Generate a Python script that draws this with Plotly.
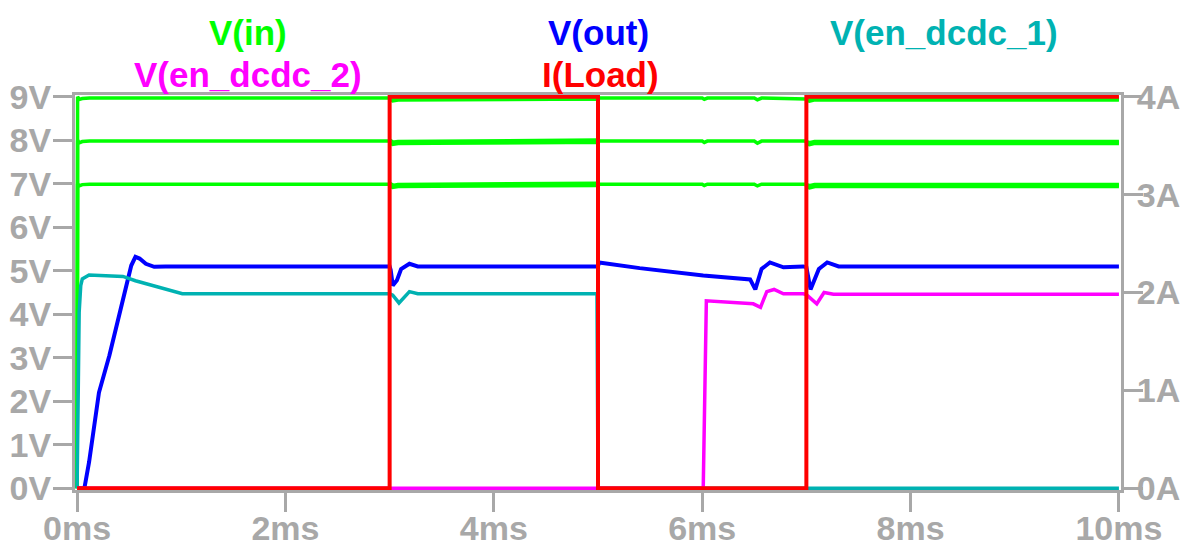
import plotly.graph_objects as go

# ---- waveform data (time in ms) ----
vin_t = [0.0, 0.005, 0.02, 0.05, 0.12, 3.0, 3.03, 3.08, 4.99, 5.0, 5.03, 6.0, 6.02, 6.05,
         6.5, 6.53, 6.57, 6.99, 7.0, 7.03, 7.08, 10.0]
vin_9 = [0.0, 9.00, 8.94, 8.96, 8.97, 8.97, 8.93, 8.95, 8.95, 8.97, 8.97, 8.97, 8.94, 8.97,
         8.97, 8.93, 8.97, 8.97, 8.95, 8.92, 8.95, 8.95]
vin_8 = [0.0, 8.00, 7.94, 7.97, 7.98, 7.98, 7.93, 7.95, 7.95, 7.98, 7.98, 7.98, 7.95, 7.98,
         7.98, 7.93, 7.98, 7.98, 7.95, 7.92, 7.95, 7.95]
vin_7 = [0.0, 7.00, 6.95, 6.98, 6.99, 6.99, 6.94, 6.96, 6.96, 6.99, 6.99, 6.99, 6.96, 6.99,
         6.99, 6.95, 6.99, 6.99, 6.96, 6.93, 6.96, 6.96]

vout_t = [0.0, 0.07, 0.115, 0.18, 0.21, 0.31, 0.40, 0.48, 0.52, 0.56, 0.60, 0.66, 0.74, 0.85,
          3.0, 3.01, 3.03, 3.07, 3.11, 3.19, 3.27, 5.0, 5.01, 5.4, 6.01, 6.46, 6.51, 6.57,
          6.65, 6.78, 6.97, 7.0, 7.04, 7.12, 7.2, 7.31, 10.0]
vout = [0.0, 0.0, 0.6, 1.66, 2.2, 3.05, 3.97, 4.77, 5.12, 5.32, 5.28, 5.16, 5.09, 5.10,
        5.10, 5.02, 4.66, 4.78, 5.04, 5.16, 5.10, 5.10, 5.19, 5.06, 4.89, 4.80, 4.57, 5.04,
        5.19, 5.08, 5.10, 5.08, 4.57, 5.04, 5.19, 5.10, 5.10]

en1_t = [0.0, 0.02, 0.035, 0.05, 0.115, 0.44, 0.56, 0.95, 1.01, 3.0, 3.03, 3.09, 3.19, 3.27,
         4.99, 5.0, 10.0]
en1 = [0.0, 4.05, 4.66, 4.81, 4.90, 4.87, 4.77, 4.50, 4.47, 4.47, 4.44, 4.26, 4.52, 4.47,
       4.47, 0.0, 0.0]

en2_t = [0.0, 6.01, 6.04, 6.49, 6.56, 6.62, 6.69, 6.78, 6.97, 7.0, 7.1, 7.17, 7.26, 10.0]
en2 = [0.0, 0.0, 4.31, 4.24, 4.16, 4.52, 4.57, 4.47, 4.47, 4.45, 4.24, 4.50, 4.46, 4.46]

load_t = [0.0, 3.0, 3.0, 5.0, 5.0, 7.0, 7.0, 10.0]
load_i = [0.0, 0.0, 4.0, 4.0, 0.0, 0.0, 4.0, 4.0]

x_ticks = [0, 2, 4, 6, 8, 10]
x_tick_text = ["0ms", "2ms", "4ms", "6ms", "8ms", "10ms"]
v_ticks = [0, 1, 2, 3, 4, 5, 6, 7, 8, 9]
v_tick_text = ["0V", "1V", "2V", "3V", "4V", "5V", "6V", "7V", "8V", "9V"]
i_ticks = [0, 1, 2, 3, 4]
i_tick_text = ["0A", "1A", "2A", "3A", "4A"]

GREEN = "#00FF00"
BLUE = "#0000FF"
CYAN = "#00B2B2"
MAGENTA = "#FF00FF"
RED = "#FF0000"
GRAY = "#A8A8A8"
FONT = "Liberation Sans"

fig = go.Figure()


def line(x, y, color, width, yaxis="y"):
    fig.add_trace(go.Scatter(x=x, y=y, mode="lines", yaxis=yaxis, showlegend=False,
                             line=dict(color=color, width=width), hoverinfo="skip"))


# input supply for the three stepped runs
for series in (vin_7, vin_8, vin_9):
    line(vin_t, series, GREEN, 3.5)

# while the load is on, the supply carries ripple: draw those stretches heavier
windows = []
for k in range(len(load_t) - 1):
    if load_i[k] > 0 and load_i[k + 1] > 0:
        windows.append((load_t[k], load_t[k + 1]))
for a, b in windows:
    for series in (vin_7, vin_8, vin_9):
        seg = [(t, v) for t, v in zip(vin_t, series) if a <= t <= b]
        line([p[0] for p in seg], [p[1] for p in seg], GREEN, 5.5)

line(vout_t, vout, BLUE, 4)
line(en1_t, en1, CYAN, 3.5)
line(en2_t, en2, MAGENTA, 3.5)
line(load_t, load_i, RED, 4, yaxis="y2")

tick_font = dict(family=FONT, size=34, color=GRAY, weight="bold")
axis_common = dict(showgrid=False, zeroline=False, showline=True, linecolor=GRAY, linewidth=3,
                   ticks="outside", ticklen=19, tickwidth=3, tickcolor=GRAY,
                   tickfont=tick_font, layer="below traces", automargin=False)

fig.update_layout(
    width=1186, height=545,
    margin=dict(l=75, r=65, t=95, b=55),
    paper_bgcolor="white", plot_bgcolor="white",
    xaxis=dict(range=[-0.02, 10.02], tickvals=x_ticks, ticktext=x_tick_text, mirror=True,
               ticklabelstandoff=-13, **axis_common),
    yaxis=dict(range=[-0.04, 9.04], tickvals=v_ticks, ticktext=v_tick_text, mirror=True,
               ticklabelstandoff=-5, **axis_common),
    yaxis2=dict(range=[-0.04 * 4 / 9, 4 + 0.04 * 4 / 9], tickvals=i_ticks, ticktext=i_tick_text,
                overlaying="y", side="right", ticklabelstandoff=-13, **axis_common),
)

# trace names across the top
labels = [
    ("V(in)", GREEN, 1.64, 1.157),
    ("V(out)", BLUE, 5.0, 1.157),
    ("V(en_dcdc_1)", CYAN, 8.32, 1.157),
    ("V(en_dcdc_2)", MAGENTA, 1.64, 1.053),
    ("I(Load)", RED, 5.02, 1.053),
]
for text, color, xpos, ypos in labels:
    fig.add_annotation(text=text, x=xpos, y=ypos, xref="x", yref="paper", showarrow=False,
                       xanchor="center", yanchor="middle",
                       font=dict(family=FONT, size=35, color=color, weight="bold"))

fig.write_html("out.html")
